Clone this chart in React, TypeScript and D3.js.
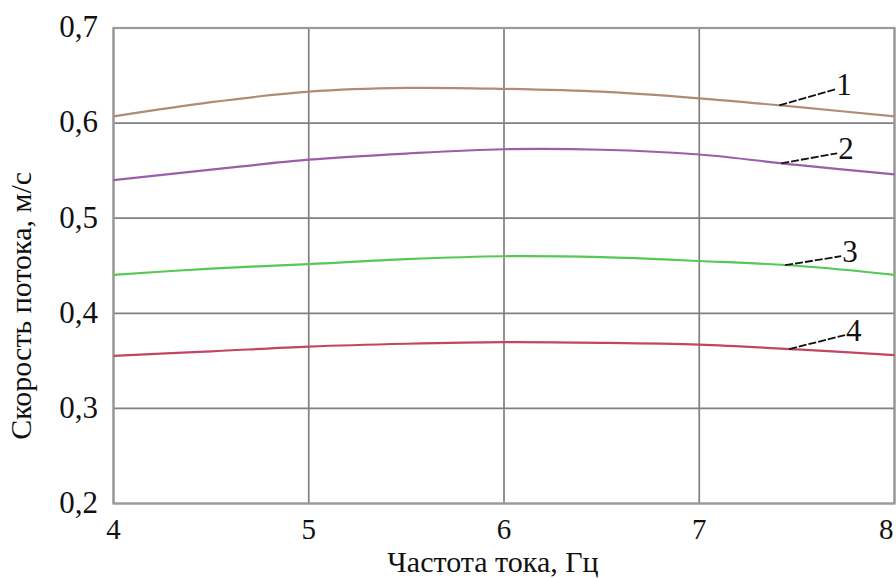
import React from "react";
import * as d3 from "d3";

// Frequency of the supply current, Hz
const freq = [4, 4.5, 5, 5.5, 6, 6.5, 7, 7.5, 8];

// Flow velocity, m/s, for each regime
const speed1 = [0.607, 0.622, 0.633, 0.637, 0.636, 0.633, 0.626, 0.617, 0.607];
const speed2 = [0.540, 0.551, 0.5615, 0.568, 0.5725, 0.572, 0.567, 0.556, 0.546];
const speed3 = [0.4405, 0.447, 0.4518, 0.457, 0.460, 0.459, 0.455, 0.450, 0.4405];
const speed4 = [0.3553, 0.360, 0.365, 0.368, 0.3697, 0.369, 0.367, 0.362, 0.356];

const seriesNames = ["1", "2", "3", "4"];
const seriesColors = ["#b08c74", "#9c5eaa", "#55c855", "#c24662"];

const xTicks = [4, 5, 6, 7, 8];
const yTicks = [0.2, 0.3, 0.4, 0.5, 0.6, 0.7];

// Frequency at which each curve gets its numbered call-out
const calloutAt = [7.41, 7.42, 7.44, 7.46];

const W = 896;
const H = 578;
const left = 113.5;
const right = 894.5;
const top = 28;
const bottom = 503.5;

export default function App() {
  const x = d3.scaleLinear().domain([4, 8]).range([left, right]);
  const y = d3.scaleLinear().domain([0.2, 0.7]).range([bottom, top]);
  const all = [speed1, speed2, speed3, speed4];

  const line = d3
    .line<number>()
    .x((_, i) => x(freq[i]))
    .y((v) => y(v))
    .curve(d3.curveCatmullRom.alpha(0.5));

  const fmt = (v: number) => v.toFixed(1).replace(".", ",");
  const font = '"Liberation Serif", "DejaVu Serif", serif';

  return (
    <svg
      width={W}
      height={H}
      style={{ position: "absolute", left: 0, top: 0, background: "#fff", fontFamily: font }}
    >
      {/* grid */}
      {xTicks.map((t) => (
        <line key={"gx" + t} x1={x(t)} x2={x(t)} y1={top} y2={bottom} stroke="#808080" strokeWidth={1.7} />
      ))}
      {yTicks.map((t) => (
        <line key={"gy" + t} x1={left} x2={right} y1={y(t)} y2={y(t)} stroke="#808080" strokeWidth={1.7} />
      ))}
      <rect x={left} y={top} width={right - left} height={bottom - top} fill="none" stroke="#999" strokeWidth={2.2} />

      {/* curves */}
      {all.map((s, k) => (
        <path key={"c" + k} d={line(s) || ""} fill="none" stroke={seriesColors[k]} strokeWidth={2.2} />
      ))}

      {/* numbered call-outs */}
      {all.map((s, k) => {
        const fx = calloutAt[k];
        const i = d3.bisectLeft(freq, fx);
        const t = (fx - freq[i - 1]) / (freq[i] - freq[i - 1]);
        const v = s[i - 1] + t * (s[i] - s[i - 1]);
        const px = x(fx);
        const py = y(v);
        const lx = px + 56;
        const ly = py - (k === 0 ? 16 : k === 1 ? 10 : k === 2 ? 9 : 14);
        return (
          <g key={"n" + k}>
            <line x1={px} y1={py} x2={lx} y2={ly} stroke="#111" strokeWidth={1.8} strokeDasharray="8,2" />
            <text x={lx + 1} y={ly + 6} fontSize={31} fill="#111">
              {seriesNames[k]}
            </text>
          </g>
        );
      })}

      {/* y tick labels */}
      {yTicks.map((t) => (
        <text key={"ly" + t} x={98} y={y(t)} dy="0.3em" textAnchor="end" fontSize={31} fill="#111">
          {fmt(t)}
        </text>
      ))}

      {/* x tick labels */}
      {xTicks.map((t, i) => (
        <text
          key={"lx" + t}
          x={i === xTicks.length - 1 ? right - 1 : x(t)}
          y={538.5}
          textAnchor={i === xTicks.length - 1 ? "end" : "middle"}
          fontSize={29}
          fill="#111"
        >
          {t}
        </text>
      ))}

      {/* axis titles */}
      <text x={493} y={572} textAnchor="middle" fontSize={30} fill="#111">
        Частота тока, Гц
      </text>
      <text
        transform={`translate(31, ${(top + bottom) / 2 + 40}) rotate(-90)`}
        textAnchor="middle"
        fontSize={30}
        fill="#111"
      >
        Скорость потока, м/с
      </text>
    </svg>
  );
}
